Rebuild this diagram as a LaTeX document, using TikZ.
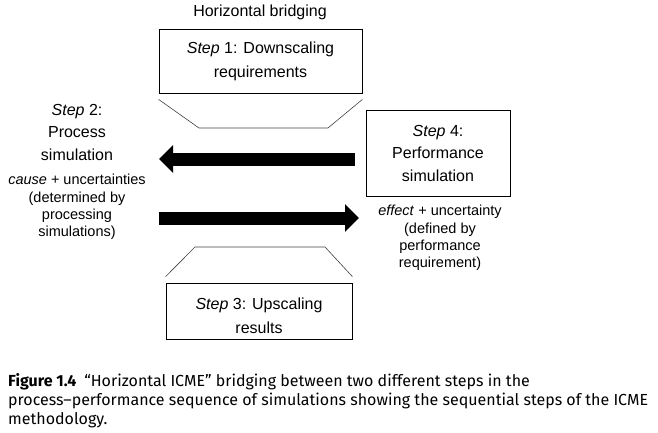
\documentclass[tikz,border=0pt]{standalone}
\usepackage{fontspec}
\setmainfont{Liberation Sans}
\newfontfamily\capfont{Fira Sans}
\usetikzlibrary{arrows.meta}
\begin{document}
\begin{tikzpicture}[x=1pt, y=-1pt, line join=miter,
  font=\fontsize{16}{22.5}\selectfont,
  stepbox/.style={draw, line width=.8pt, inner sep=0pt, align=center},
  note/.style={align=center, font=\fontsize{14.5}{17.3}\selectfont},
  funnel/.style={draw=black!75, line width=.6pt},
  bigarrow/.style={line width=13pt, -{Triangle[width=27pt, length=14pt]}}]
  \useasboundingbox (0,0) rectangle (658,433);
  % heading and the four steps
  \node (title) at (260,12) {Horizontal bridging};
  \node[stepbox, minimum width=203pt, minimum height=64pt, font=\fontsize{16}{24}\selectfont] (s1) at (260.5,61) {\textit{Step} 1: Downscaling\\requirements};
  \node[align=center] (s2) at (77,132) {\textit{Step} 2:\\Process\\simulation};
  \node[stepbox, minimum width=186pt, minimum height=56pt, font=\fontsize{16}{24}\selectfont, text height=45pt, text depth=0pt] (s3) at (259,311) {\textit{Step} 3: Upscaling\\results};
  \node[stepbox, minimum width=144pt, minimum height=86pt] (s4) at (438,153) {\textit{Step} 4:\\Performance\\simulation};
  \node[note] (cause) at (77,207) {\textit{cause} + uncertainties\\(determined by\\processing\\simulations)};
  \node[note] (effect) at (440,238) {\textit{effect} + uncertainty\\(defined by\\performance\\requirement)};
  % funnels
  \draw[funnel] ([yshift=-6pt]s1.south west) -- (199,128) -- (328,128) -- ([yshift=-6pt]s1.south east);
  \draw[funnel] ([yshift=6pt]s3.north west) -- (195,247) -- (325,247) -- ([yshift=6pt]s3.north east);
  % arrows
  \coordinate (la) at (355,159);
  \coordinate (lb) at (159,159);
  \coordinate (ra) at (159,218);
  \coordinate (rb) at (359,218);
  \draw[bigarrow] (la) -- (lb);
  \draw[bigarrow] (ra) -- (rb);
  % caption
  \node[anchor=base west, align=left, inner sep=0pt, font=\capfont\fontsize{16}{19}\selectfont] (cap) at (8,424)
    {\textbf{Figure 1.4}\enspace “Horizontal ICME” bridging between two different steps in the\\
     process–performance sequence of simulations showing the sequential steps of the ICME\\
     methodology.};
\end{tikzpicture}
\end{document}
